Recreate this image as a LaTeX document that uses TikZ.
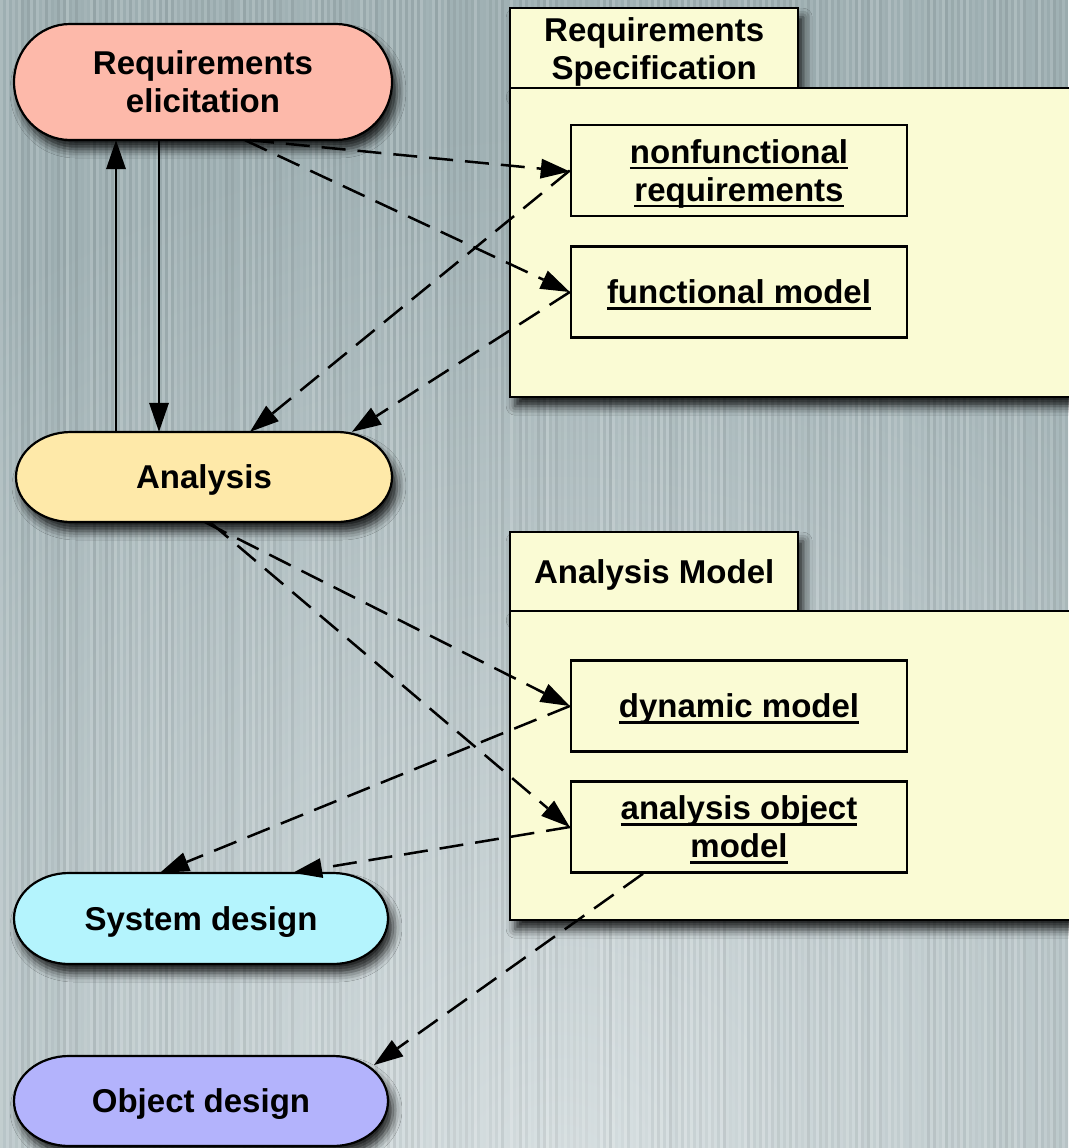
\documentclass[tikz,border=0pt]{standalone}
\usepackage{fontspec}
\setmainfont{Liberation Sans}
\usetikzlibrary{arrows.meta,calc,shadows.blur}

\definecolor{bgouter}{HTML}{A0B1B4}
\definecolor{bginner}{HTML}{D8E0E2}
\definecolor{reqfill}{HTML}{FDB9AA}
\definecolor{anafill}{HTML}{FEE9A9}
\definecolor{sysfill}{HTML}{B4F4FD}
\definecolor{objfill}{HTML}{B3B3FC}
\definecolor{pkgfill}{HTML}{FAFBD4}

% underline at a fixed depth below the baseline
\newcommand\ulin[1]{\setbox0=\hbox{#1}\rlap{\rule[-6pt]{\wd0}{2.5pt}}\box0}

% stadium outline, then the named node on top of it:
% name, centre x, centre y, width, height, end x radius, end y radius, fill
\newcommand\pill[8]{%
  \draw[pilledge, fill=#8]
    ({#2-#4/2+#6},{#3-#5/2}) -- ({#2+#4/2-#6},{#3-#5/2})
    arc[start angle=-90, end angle=90, x radius=#6, y radius=#7]
    -- ({#2-#4/2+#6},{#3+#5/2})
    arc[start angle=90, end angle=270, x radius=#6, y radius=#7] -- cycle;
  \node[pill, minimum width=#4pt, minimum height=#5pt] (#1) at (#2,#3)}

\tikzset{
  lbl/.style={font=\bfseries\fontsize{33}{38}\selectfont, align=center,
      text=black, text depth=0pt},
  softshadow/.style={blur shadow={shadow xshift=5pt, shadow yshift=-9pt,
      shadow blur radius=9pt, shadow opacity=85}},
  pill/.style={lbl, rectangle, inner sep=0pt},
  pilledge/.style={draw=black, line width=2.2pt, softshadow},
  pkgtab/.style={lbl, rectangle, draw=black, fill=pkgfill, line width=2.4pt,
      minimum width=288pt, anchor=north west, inner sep=0pt, softshadow},
  pkgbody/.style={rectangle, draw=black, fill=pkgfill, line width=2.4pt,
      minimum width=590pt, anchor=north west, inner sep=0pt, softshadow},
  item/.style={lbl, rectangle, draw=black, fill=pkgfill, line width=2.4pt,
      minimum width=336pt, minimum height=91pt, inner sep=0pt},
  tip/.style={-{Triangle[length=29pt, width=20pt, fill=black, line width=0pt]},
      draw=black, opacity=1},
  flow/.style={tip, line width=2pt},
  dep/.style={tip, line width=2.5pt, dash pattern=on 24pt off 12pt}
}

\begin{document}
\begin{tikzpicture}[x=1pt, y=-1pt]
\useasboundingbox (0,0) rectangle (1068,1148);

% brushed metal backdrop
\begin{scope}
  \clip (0,0) rectangle (1068,1148);
  \fill[bgouter] (0,0) rectangle (1068,1148);
  \shade[inner color=bginner, outer color=bgouter] (560,1180) circle (1050);
  \pgfmathsetseed{4711}
  \foreach \i in {0,...,177} {
    \pgfmathsetmacro\opw{rnd*0.16}
    \pgfmathsetmacro\opb{rnd*0.07}
    \fill[white, opacity=\opw] (\i*6,0) rectangle ++(3,1148);
    \fill[black, opacity=\opb] (\i*6+3,0) rectangle ++(3,1148);
  }
\end{scope}

% activities
\pill{reqel}{203}{82}{378}{116}{56}{58}{reqfill} {Requirements\\elicitation};
\pill{ana}{204}{477}{376}{90}{55}{45}{anafill} {Analysis};
\pill{sysd}{201}{918.5}{374}{91}{55}{45.5}{sysfill} {System design};
\pill{objd}{201}{1101}{374}{90}{55}{45}{objfill} {Object design};

% package: Requirements Specification
\node[pkgtab, minimum height=80pt] (rstab) at (509,7) {Requirements\\Specification};
\node[pkgbody, minimum height=309pt] (rsbody) at (509,87) {};
\node[item] (nfr) at (739,170.5) {\ulin{nonfunctional}\\\ulin{requirements}};
\node[item] (fmod) at (739,292) {\ulin{functional model}};

% package: Analysis Model
\node[pkgtab, minimum height=79pt] (amtab) at (509,531) {Analysis Model};
\node[pkgbody, minimum height=309pt] (ambody) at (509,610) {};
\node[item] (dmod) at (739,706) {\ulin{dynamic model}};
\node[item] (aobj) at (739,827) {\ulin{analysis object}\\\ulin{model}};

% control flow between activities
\draw[flow] ($(ana.north)+(-88,0)$) -- ($(reqel.south)+(-87,0)$);
\draw[flow] ($(reqel.south)+(-44,0)$) -- ($(ana.north)+(-45,0)$);

% products and their use
\draw[dep] ($(reqel.south)+(47,0)$) -- ($(nfr.west)+(0,1)$);
\draw[dep] ($(reqel.south)+(42,0)$) -- (fmod.west);
\draw[dep] (nfr.west) -- ($(ana.north)+(46,0)$);
\draw[dep] (fmod.west) -- ($(ana.north)+(148,0)$);
\draw[dep] ($(ana.south)+(1,0)$) -- (dmod.west);
\draw[dep] ($(ana.south)+(6,0)$) -- (aobj.west);
\draw[dep] (dmod.west) -- ($(sysd.north)+(-41,0)$);
\draw[dep] (aobj.west) -- ($(sysd.north)+(92,0)$);
\draw[dep] ($(aobj.south)+(-96,0)$) -- ($(objd.center)+(173,-36)$);
\end{tikzpicture}
\end{document}
